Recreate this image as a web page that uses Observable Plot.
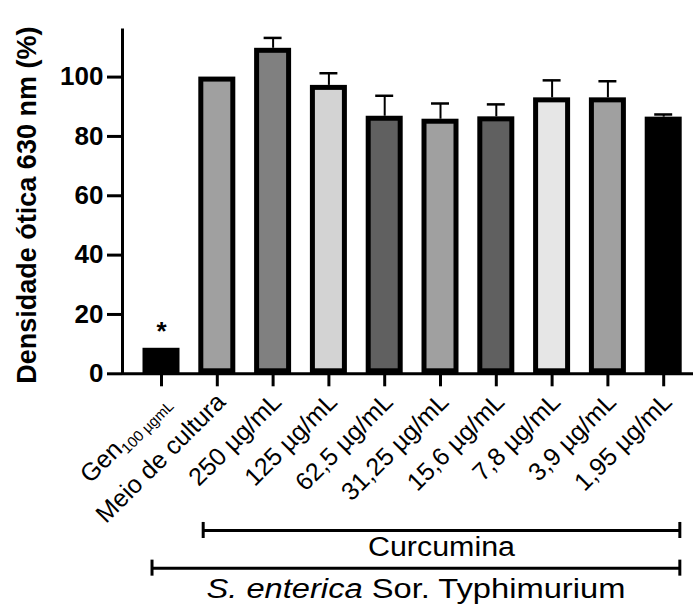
<!DOCTYPE html>
<html><head><meta charset="utf-8">
<script src="https://cdn.jsdelivr.net/npm/d3@7"></script>
<script src="https://cdn.jsdelivr.net/npm/@observablehq/plot@0.6"></script>
<style>
html,body{margin:0;padding:0;background:#fff;}
#chart{width:694px;height:605px;}
</style></head><body><div id="chart"></div>
<script>
// ---- data ----
const categories = ["Gen", "Meio de cultura", "250 µg/mL", "125 µg/mL", "62,5 µg/mL", "31,25 µg/mL", "15,6 µg/mL", "7,8 µg/mL", "3,9 µg/mL", "1,95 µg/mL"];
const genSubscript = "100 µgmL";
const values = [8.6, 100, 109.7, 97.2, 86.8, 85.8, 86.6, 93.0, 93.0, 86.5];
const errors = [0, 0, 3.5, 4.1, 6.9, 5.3, 4.2, 5.9, 5.6, 0.9];
const significance = ["*", "", "", "", "", "", "", "", "", ""];
const yTicks = [0, 20, 40, 60, 80, 100];
const yLabel = "Densidade ótica 630 nm (%)";
const bracketLabels = ["Curcumina", "S. enterica Sor. Typhimurium"];
const bracketItalic = ["", "S. enterica"];

// ---- styles / layout ----
const fills = ["#000000", "#a0a0a0", "#808080", "#d3d3d3", "#606060", "#a0a0a0", "#606060", "#e6e6e6", "#a0a0a0", "#000000"];
const W = 694, H = 605;
const mL = 122, mR = 1, mT = 30, mB = 231.7;
const xDomain = [-0.699, 9.534];
const yDomain = [0, 115.7];
const half = 0.3315, capHalf = 0.161, bracketCap = 2.7;
const bracketX1 = [0.747, -0.17], bracketX2 = [9.289, 9.289];
const bracketY = [-52.8, -65.5], bracketTextY = [-55.1, -69.0];
const bracketTextWidth = [147, 419];
const textStretch = 1.1;
const font = "'Liberation Sans', Arial, Helvetica, sans-serif";

const data = categories.map((c, i) => ({i, c, v: values[i], e: errors[i], s: significance[i], f: fills[i]}));
const brackets = bracketLabels.map((label, k) => ({label, x1: bracketX1[k], x2: bracketX2[k], y: bracketY[k], ty: bracketTextY[k]}));
const caps = brackets.flatMap(b => [{x: b.x1, y1: b.y - bracketCap, y2: b.y + bracketCap}, {x: b.x2, y1: b.y - bracketCap, y2: b.y + bracketCap}]);
const withErr = data.filter(d => d.e > 0);

const plot = Plot.plot({
  width: W, height: H,
  marginLeft: mL, marginRight: mR, marginTop: mT, marginBottom: mB,
  x: {domain: xDomain, axis: null},
  y: {domain: yDomain, axis: null},
  color: {type: "identity"},
  style: {fontFamily: font, color: "#000", background: "#fff", overflow: "visible"},
  marks: [
    Plot.ruleX(withErr, {x: "i", y1: "v", y2: d => d.v + d.e, strokeWidth: 2, stroke: "#000"}),
    Plot.ruleY(withErr, {x1: d => d.i - capHalf, x2: d => d.i + capHalf, y: d => d.v + d.e, strokeWidth: 2.5, stroke: "#000"}),
    Plot.rectY(data, {x1: d => d.i - half, x2: d => d.i + half, y1: () => 0, y2: "v", fill: d => d.f, stroke: "#000", strokeWidth: 5, inset: 2.5}),
    Plot.ruleY([0], {strokeWidth: 3, stroke: "#000"}),
    Plot.ruleX([xDomain[0]], {strokeWidth: 3, stroke: "#000", strokeLinecap: "square"}),
    Plot.axisY(yTicks, {tickSize: 15, strokeWidth: 3, tickFormat: () => "", label: null}),
    Plot.text(yTicks, {y: d => d, frameAnchor: "left", textAnchor: "end", dx: -19, text: d => String(d), fontSize: 26, fontWeight: "bold", ariaLabel: "y-labels"}),
    Plot.axisX(data.map(d => d.i), {tickSize: 13, strokeWidth: 3, tickFormat: () => "", label: null}),
    Plot.text(data, {x: "i", y: () => 0, text: "c", rotate: -45, textAnchor: "end", lineAnchor: "middle", fontSize: 25, dx: 4, dy: 24, ariaLabel: "x-labels"}),
    Plot.text(data.filter(d => d.s), {x: "i", y: "v", text: "s", dy: -8, lineAnchor: "bottom", fontSize: 26, fontWeight: "bold"}),
    Plot.text([yLabel], {frameAnchor: "left", text: d => d, rotate: -90, textAnchor: "middle", dx: -95, dy: 3, fontSize: 27, fontWeight: "bold"}),
    Plot.ruleY(brackets, {x1: "x1", x2: "x2", y: "y", strokeWidth: 3, stroke: "#000"}),
    Plot.ruleX(caps, {x: "x", y1: "y1", y2: "y2", strokeWidth: 3, stroke: "#000"}),
    Plot.text(brackets, {x: d => (d.x1 + d.x2) / 2, y: "ty", text: "label", lineAnchor: "top", fontSize: 27})
  ]
});

document.getElementById("chart").appendChild(plot);

// rich text: subscript on "Gen", italic species name, width matching of bracket labels
d3.select(plot).selectAll("text").each(function() {
  const t = this.textContent;
  const sel = d3.select(this);
  if (t === categories[0]) {
    sel.append("tspan").attr("font-size", 15).attr("dy", 5).text(genSubscript);
  }
  const k = bracketLabels.indexOf(t);
  if (k >= 0) {
    sel.attr("textLength", bracketTextWidth[k]).attr("lengthAdjust", "spacingAndGlyphs");
    if (bracketItalic[k]) {
      const rest = t.slice(bracketItalic[k].length);
      sel.text("");
      sel.append("tspan").attr("font-style", "italic").text(bracketItalic[k]);
      sel.append("tspan").text(rest);
    }
  }
});

// the reference's glyphs are a little wider than Liberation Sans: widen tick labels
d3.select(plot).selectAll('g[aria-label="y-labels"] text, g[aria-label="x-labels"] text').each(function() {
  const L = this.getComputedTextLength();
  if (L > 0) {
    this.setAttribute("textLength", (L * textStretch).toFixed(1));
    this.setAttribute("lengthAdjust", "spacingAndGlyphs");
  }
});
</script></body></html>
